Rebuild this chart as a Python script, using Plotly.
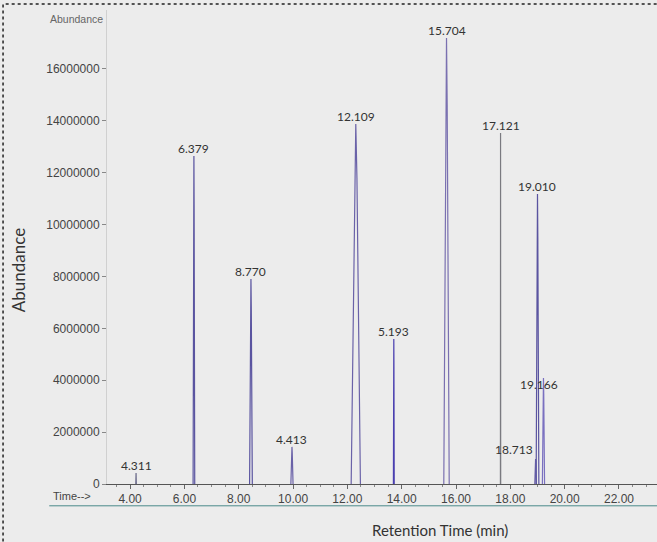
import plotly.graph_objects as go

# Peak data
peak_labels = ["4.311", "6.379", "8.770", "4.413", "12.109", "5.193", "15.704",
               "17.121", "18.713", "19.010", "19.166"]
peak_times = [4.22, 6.35, 8.45, 9.96, 12.31, 13.71, 15.65, 17.64, 18.93, 19.00, 19.22]
peak_heights = [0.42e6, 12.64e6, 7.90e6, 1.43e6, 13.88e6, 5.59e6, 17.19e6,
                13.53e6, 0.96e6, 11.18e6, 4.09e6]
peak_halfwidths = [0.01, 0.03, 0.05, 0.04, 0.17, 0.015, 0.1, 0.005, 0.03, 0.05, 0.04]
peak_colors = ["#6a6a8a", "#5a54a0", "#5a54a0", "#6a62a8", "#6a62a8", "#4a3fb0",
               "#7a70b0", "#7a7a80", "#6a62a8", "#5a54a0", "#7a70c0"]

y_ticks = [0, 2000000, 4000000, 6000000, 8000000, 10000000, 12000000, 14000000, 16000000]
x_ticks = [4, 6, 8, 10, 12, 14, 16, 18, 20, 22]

BG = "#ececec"
fig = go.Figure()

for lab, t, h, w, c in zip(peak_labels, peak_times, peak_heights, peak_halfwidths, peak_colors):
    fig.add_trace(go.Scatter(
        x=[t - w, t - w * 0.25, t, t + w * 0.25, t + w],
        y=[0, h * 0.85, h, h * 0.85, 0],
        mode="lines", line=dict(color=c, width=1.2),
        showlegend=False, hoverinfo="skip"))

# peak labels
label_font = dict(family="Lato, Open Sans, sans-serif", size=12, color="#333333")
for lab, t, h in zip(peak_labels, peak_times, peak_heights):
    if lab == "18.713":
        fig.add_annotation(x=t, y=h, text=lab, showarrow=False, xanchor="right",
                           yanchor="middle", yshift=10, xshift=-1, font=label_font)
    elif lab == "19.166":
        fig.add_annotation(x=t, y=h, text=lab, showarrow=False, xanchor="center",
                           yanchor="middle", yshift=-7, xshift=-4, font=label_font)
    else:
        fig.add_annotation(x=t, y=h, text=lab, showarrow=False, xanchor="center",
                           yanchor="bottom", yshift=-2, font=label_font)

tick_font = dict(family="Liberation Sans, Arial, sans-serif", size=12, color="#444444")

fig.update_layout(
    width=657, height=542,
    margin=dict(l=107, r=0, t=10, b=58),
    paper_bgcolor=BG, plot_bgcolor=BG,
    xaxis=dict(range=[3.15, 23.4], tickvals=x_ticks, tickformat=".2f",
               automargin=False,
               showgrid=False, zeroline=False, showline=True, linecolor="#555555",
               linewidth=1, ticks="outside", ticklen=4, tickcolor="#666666",
               minor=dict(dtick=0.5, ticks="outside", ticklen=2, tickcolor="#888888"),
               tickfont=tick_font),
    yaxis=dict(range=[0, 18.27e6], tickvals=y_ticks, tickformat="d",
               automargin=False,
               showgrid=False, zeroline=False, showline=True, linecolor="#d0d0d0",
               ticks="outside", ticklen=4, tickcolor="#888888",
               tickfont=tick_font),
)

# axis titles and extra texts
fig.add_annotation(xref="paper", yref="paper", x=0.605, y=-0.097,
                   xanchor="center", yanchor="middle",
                   text="Retention Time (min)", showarrow=False,
                   font=dict(family="Lato, Open Sans, sans-serif", size=15, color="#333333"))
fig.add_annotation(xref="paper", yref="paper", x=-0.162, y=0.451, textangle=-90,
                   xanchor="center", yanchor="middle",
                   text="Abundance", showarrow=False,
                   font=dict(family="Lato, Open Sans, sans-serif", size=17, color="#333333"))
fig.add_annotation(xref="paper", yref="paper", x=-0.056, y=0.981,
                   xanchor="center", yanchor="middle",
                   text="Abundance", showarrow=False,
                   font=dict(family="Liberation Sans, Arial, sans-serif", size=10.5, color="#666666"))
fig.add_annotation(xref="paper", yref="paper", x=-0.064, y=-0.025,
                   xanchor="center", yanchor="middle",
                   text="Time-->", showarrow=False,
                   font=dict(family="Liberation Sans, Arial, sans-serif", size=11, color="#444444"))

# line below time labels
fig.add_shape(type="line", xref="paper", yref="paper", x0=-0.105, x1=1.0,
              y0=-0.046, y1=-0.046, line=dict(color="#4a8a8a", width=1))
# dotted frame (left and top edges visible)
fig.add_shape(type="rect", xref="paper", yref="paper", x0=-0.189, x1=1.05,
              y0=-0.2, y1=1.0125, line=dict(color="#222222", width=1.5, dash="dot"),
              fillcolor="rgba(0,0,0,0)", layer="above")

fig.write_html("out.html", config={"displayModeBar": False},
               post_script="document.body.style.margin='0';document.body.style.overflow='hidden';")
